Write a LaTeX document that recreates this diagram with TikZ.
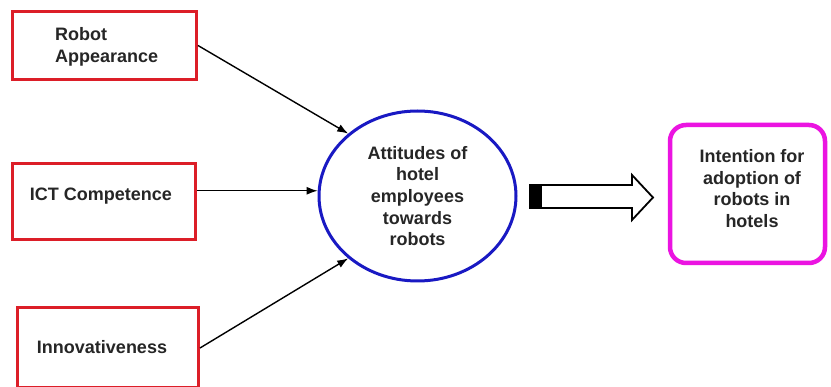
\documentclass[tikz,border=0pt]{standalone}
\usepackage{fontspec}
\setmainfont{Liberation Sans}
\usetikzlibrary{arrows.meta,shapes.geometric}
\definecolor{boxred}{RGB}{220,30,40}
\definecolor{ellblue}{RGB}{25,25,195}
\definecolor{goalmag}{RGB}{235,20,225}
\begin{document}
\begin{tikzpicture}[x=1pt,y=-1pt,
  rbox/.style={draw=boxred,line width=3pt,minimum width=184pt,inner sep=0pt},
  lbl/.style={font=\fontsize{18pt}{21.6pt}\selectfont\bfseries,inner sep=0pt,text=black!85},
  conn/.style={line width=1.4pt,-{Latex[length=11pt,width=8pt]}},
  hollow/.style={draw=black,line width=1.8pt,fill=white,line join=miter}]
\clip (0,0) rectangle (831,387);
\fill[white] (0,0) rectangle (831,387);
% input boxes
\node[rbox,minimum height=68pt] (b1) at (104.5,45.5) {};
\node[rbox,minimum height=76pt,minimum width=183pt] (b2) at (104,201.5) {};
\node[rbox,minimum height=80pt,minimum width=181pt] (b3) at (108,348) {};
\node[lbl,align=left,anchor=west] (t1) at (55,47) {Robot\\Appearance};
\node[lbl] (t2) at (101,196) {ICT Competence};
\node[lbl] (t3) at (102,347) {Innovativeness};
% ellipse
\node[ellipse,draw=ellblue,line width=3pt,minimum width=197pt,minimum height=170pt,inner sep=0pt,
  lbl,align=center] (att) at (417.5,196) {Attitudes of\\hotel\\employees\\towards\\robots};
% goal box
\node[draw=goalmag,line width=4.5pt,rounded corners=16pt,minimum width=155pt,minimum height=138pt,inner sep=0pt] (goal) at (747.5,194) {};
\node[lbl,align=center] (tg) at (752,188.5) {Intention for\\adoption of\\robots in\\hotels};
% connectors
\draw[conn] (b1.east) -- (att.138);
\draw[conn] (b2.east |- att.177) -- (att.177);
\draw[conn] (b3.east) -- (att.222);
% hollow arrow
\draw[hollow] (530,185) -- (632,185) -- (632,175) -- (653,197.5) -- (632,220) -- (632,208) -- (530,208) -- cycle;
\fill[black] (530,185) rectangle (542,208);
\end{tikzpicture}
\end{document}
